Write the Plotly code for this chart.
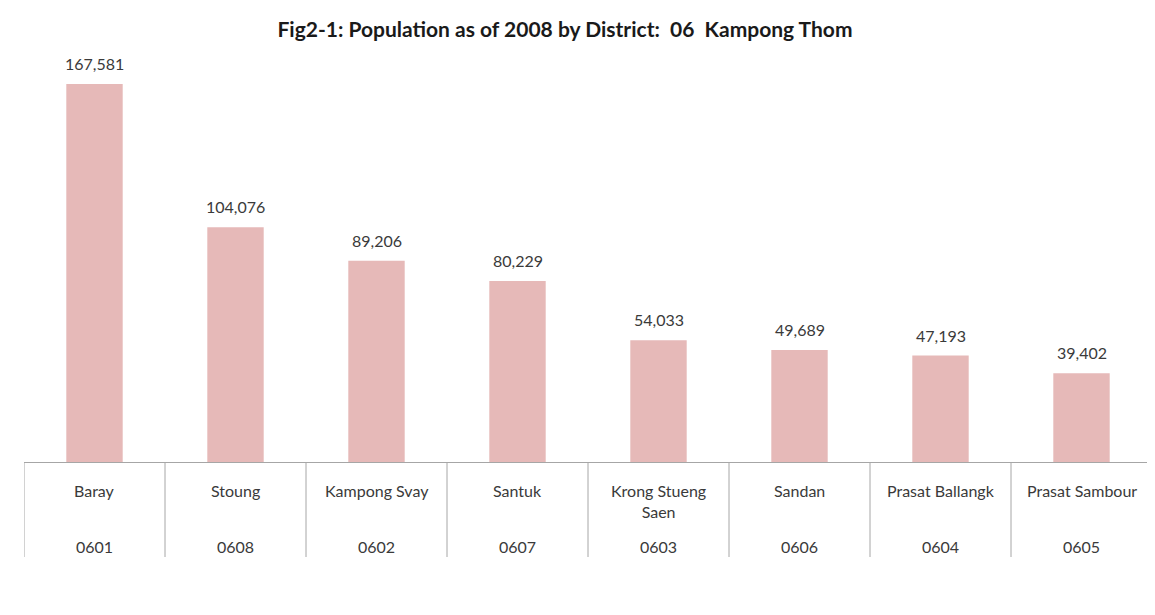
import plotly.graph_objects as go

districts = ["Baray", "Stoung", "Kampong Svay", "Santuk", "Krong Stueng<br>Saen",
             "Sandan", "Prasat Ballangk", "Prasat Sambour"]
codes = ["0601", "0608", "0602", "0607", "0603", "0606", "0604", "0605"]
population = [167581, 104076, 89206, 80229, 54033, 49689, 47193, 39402]

title = "Fig2-1: Population as of 2008 by District:  06  Kampong Thom"

OFF = 8  # default page body margin
W, H = 1155 - OFF, 615 - OFF
L, T = 24 - OFF, 56 - OFF
AXIS_Y = 462 - OFF
R = W - (1152 - OFF)
B = H - AXIS_Y
plot_h = AXIS_Y - T

def py(pix):
    return (AXIS_Y + OFF - pix) / plot_h

xs = list(range(len(districts)))
FONT = "Lato, Noto Sans, sans-serif"
TXT = "#3a3a3a"

fig = go.Figure()
fig.add_trace(go.Bar(
    x=xs, y=population,
    marker=dict(color="rgb(230,185,184)", line=dict(width=0)),
    width=0.4,
    hoverinfo="skip",
))

annotations = []
for i, v in enumerate(population):
    annotations.append(dict(x=i, y=v, xref="x", yref="y", text=f"{v:,}",
                            showarrow=False, yanchor="bottom", yshift=9,
                            font=dict(family=FONT, size=16, color=TXT)))
for i, (d, c) in enumerate(zip(districts, codes)):
    annotations.append(dict(x=i, y=py(479), xref="x", yref="paper", text=d,
                            showarrow=False, yanchor="top",
                            font=dict(family=FONT, size=16, color=TXT)))
    annotations.append(dict(x=i, y=py(546), xref="x", yref="paper", text=c,
                            showarrow=False, yanchor="middle",
                            font=dict(family=FONT, size=16, color=TXT)))

shapes = []
for k in range(len(districts) + 1):
    shapes.append(dict(type="line", xref="x", yref="paper", x0=k - 0.5, x1=k - 0.5,
                       y0=0, y1=py(557), line=dict(color="#a6a6a6", width=1)))

fig.update_layout(
    width=W, height=H,
    margin=dict(l=L, r=R, t=T, b=B),
    paper_bgcolor="white", plot_bgcolor="white",
    title=dict(text=f"<b>{title}</b>", x=(565 - OFF) / W, xanchor="center",
               y=1 - (30 - OFF) / H, yanchor="middle",
               font=dict(family=FONT, size=21, color="#1a1a1a")),
    xaxis=dict(range=[-0.5, len(districts) - 0.5], showticklabels=False, showgrid=False,
               showline=True, linecolor="#a6a6a6", linewidth=1, ticks="", zeroline=False, fixedrange=True),
    yaxis=dict(range=[0, 180000], visible=False, showgrid=False, zeroline=False),
    annotations=annotations,
    shapes=shapes,
    showlegend=False,
    bargap=0.6,
)

fig.write_html("out.html")
